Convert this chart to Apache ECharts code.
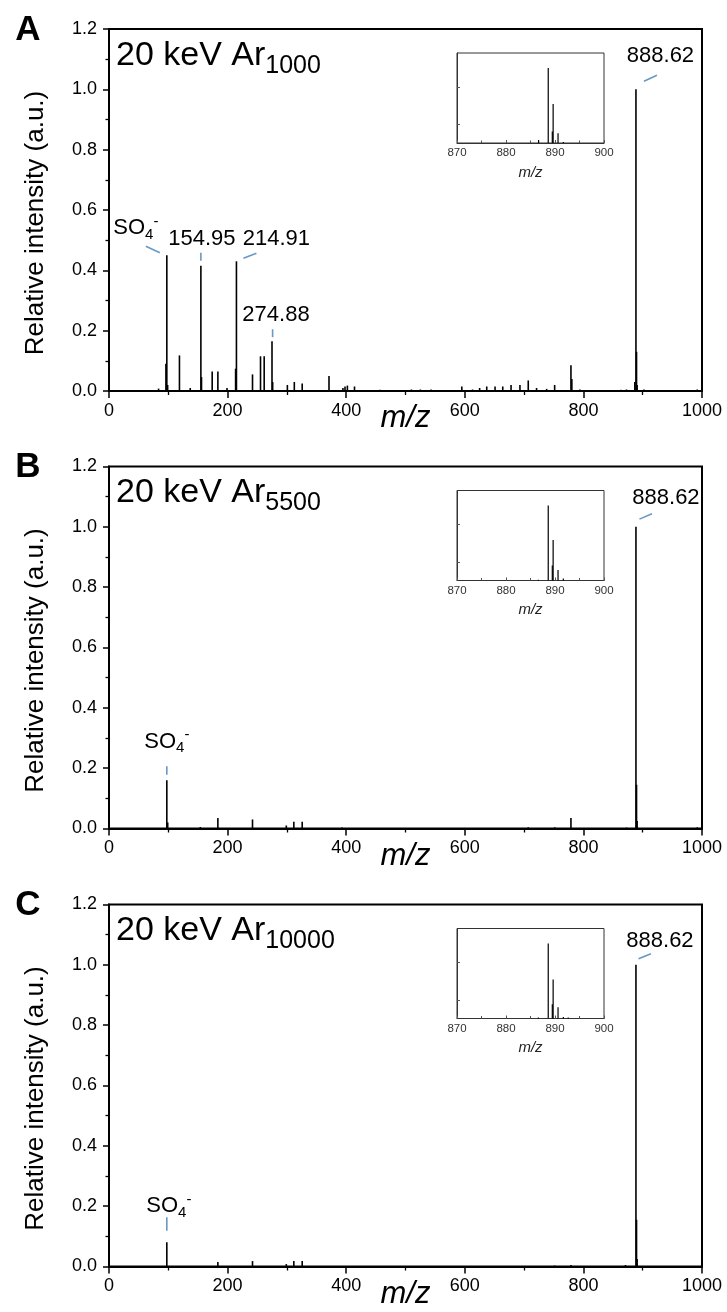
<!DOCTYPE html>
<html>
<head>
<meta charset="utf-8">
<script src="https://cdn.jsdelivr.net/npm/echarts@6/dist/echarts.min.js"></script>
<style>
html,body{margin:0;padding:0;background:#fff;}
#chart{width:727px;height:1312px;}
</style>
</head>
<body>
<div id="chart"></div>
<script>
// ---------------- DATA ----------------
const panelLetters = ['A', 'B', 'C'];
const clusterSizes = ['1000', '5500', '10000'];

const xTicks = [0, 200, 400, 600, 800, 1000];
const yTicks = [0, 0.2, 0.4, 0.6, 0.8, 1.0, 1.2];
const insetTicks = [870, 880, 890, 900];

// Panel A spectrum (m/z, relative intensity)
const mzA = [83.6, 96.0, 97.5, 98.9, 118.8, 137, 154.95, 156, 174, 183.6, 199, 213.5, 214.91, 242, 255.5, 261.7, 274.88, 276, 300.8, 312.5, 325.8, 371, 394.5, 398, 402, 414, 457, 510, 525, 543, 595, 613, 625, 637, 651, 664, 678, 693, 707, 721, 738, 751.5, 779, 780.5, 794, 863, 872.7, 886.7, 888.62, 889.6, 890.6, 902, 992];
const intA = [0.008, 0.09, 0.45, 0.02, 0.118, 0.01, 0.415, 0.046, 0.065, 0.065, 0.01, 0.074, 0.43, 0.055, 0.115, 0.115, 0.165, 0.03, 0.02, 0.03, 0.025, 0.05, 0.01, 0.015, 0.018, 0.015, 0.004, 0.005, 0.005, 0.005, 0.015, 0.005, 0.01, 0.015, 0.015, 0.015, 0.02, 0.02, 0.035, 0.01, 0.007, 0.02, 0.085, 0.04, 0.005, 0.004, 0.005, 0.03, 1.0, 0.13, 0.02, 0.005, 0.005];

// Panel B spectrum
const mzB = [97.5, 99, 154, 183.6, 242, 299, 311.7, 325.8, 393, 707, 751.5, 779, 872.7, 888.62, 889.6, 890.6, 992];
const intB = [0.16, 0.02, 0.005, 0.035, 0.03, 0.01, 0.022, 0.022, 0.003, 0.004, 0.004, 0.035, 0.003, 1.0, 0.145, 0.025, 0.004];

// Panel C spectrum
const mzC = [97.5, 183.6, 242, 299, 311.7, 325.8, 751.5, 779, 871, 888.62, 889.6, 890.6];
const intC = [0.08, 0.015, 0.018, 0.008, 0.018, 0.018, 0.003, 0.005, 0.005, 1.0, 0.155, 0.025];

// Insets (870-900 zoom), relative intensity
const insetMzA = [886.65, 888.62, 889.45, 889.62, 890.62, 891.7];
const insetIntA = [0.04, 1.0, 0.155, 0.52, 0.13, 0.015];
const insetMzB = [886.6, 888.62, 889.45, 889.62, 890.62, 891.7];
const insetIntB = [0.01, 1.0, 0.2, 0.54, 0.14, 0.027];
const insetMzC = [886.6, 888.62, 889.45, 889.62, 890.62, 891.7, 892.7];
const insetIntC = [0.013, 1.0, 0.19, 0.52, 0.15, 0.02, 0.013];

// Peak annotations
const annMzA = [97.5, 154.95, 214.91, 274.88, 888.62];
const annIntA = [0.45, 0.415, 0.43, 0.165, 1.0];
const annTextA = ['SO{sub|4}{sup|-}', '154.95', '214.91', '274.88', '888.62'];
const annMzB = [97.5, 888.62];
const annIntB = [0.16, 1.0];
const annTextB = ['SO{sub|4}{sup|-}', '888.62'];
const annMzC = [97.5, 888.62];
const annIntC = [0.08, 1.0];
const annTextC = ['SO{sub|4}{sup|-}', '888.62'];

// ---------------- LAYOUT / STYLE ----------------
const FONT = '"Liberation Sans", Arial, Helvetica, sans-serif';
const LEADER = '#6a98c4';
const panelTops = [29, 466.5, 904.5];
const PLOT = {left: 109, width: 593, height: 362};
const INSET = {left: 457, width: 147, dy: 24, height: 90};

// pixel offsets of label text (t) and leader line (l) relative to the peak top
const annLayout = [
  [ {t: [-31, -27], l: [-21, -9, -7, -2.6]},
    {t: [1, -27],   l: [0, -13, 0, -5]},
    {t: [40, -22],  l: [7, -3, 20, -8]},
    {t: [4, -26],   l: [0.6, -12, 0.6, -4]},
    {t: [24.5, -33], l: [8, -8, 21, -14]} ],
  [ {t: [0, -38.5], l: [0, -14, 0, -5.5]},
    {t: [30, -29],  l: [3.5, -7.7, 16, -13]} ],
  [ {t: [2, -36.5], l: [0, -25, 0, -11.5]},
    {t: [24, -24],  l: [2.6, -6, 15, -11]} ]
];

const spectra = [[mzA, intA], [mzB, intB], [mzC, intC]];
const insets = [[insetMzA, insetIntA], [insetMzB, insetIntB], [insetMzC, insetIntC]];
const anns = [[annMzA, annIntA, annTextA], [annMzB, annIntB, annTextB], [annMzC, annIntC, annTextC]];

function pairs(xs, ys) { return xs.map((x, i) => [x, ys[i]]); }

function stickRender(width) {
  return function (params, api) {
    const x = api.value(0), y = api.value(1);
    const p0 = api.coord([x, 0]);
    const p1 = api.coord([x, y]);
    return {
      type: 'line',
      shape: {x1: p0[0], y1: p0[1], x2: p1[0], y2: p1[1]},
      style: {stroke: '#000', lineWidth: width}
    };
  };
}

function annRender(layout, texts) {
  return function (params, api) {
    const i = params.dataIndex;
    const p = api.coord([api.value(0), api.value(1)]);
    const o = layout[i];
    return {
      type: 'group',
      children: [
        {type: 'line',
         shape: {x1: p[0] + o.l[0], y1: p[1] + o.l[1], x2: p[0] + o.l[2], y2: p[1] + o.l[3]},
         style: {stroke: LEADER, lineWidth: 1.6}},
        {type: 'text', x: p[0] + o.t[0], y: p[1] + o.t[1],
         style: {
           text: texts[i], fill: '#000', align: 'center', verticalAlign: 'middle',
           fontFamily: FONT, fontSize: 22, lineHeight: 28,
           rich: {
             sub: {fontFamily: FONT, fontSize: 15, lineHeight: 14, verticalAlign: 'bottom', fill: '#000'},
             sup: {fontFamily: FONT, fontSize: 15, lineHeight: 14, verticalAlign: 'top', fill: '#000'}
           }
         }}
      ]
    };
  };
}

const grid = [], xAxis = [], yAxis = [], series = [], title = [], graphic = [];

panelTops.forEach((T, k) => {
  // main grid
  grid.push({left: PLOT.left, top: T, width: PLOT.width, height: PLOT.height,
    show: true, borderColor: '#000', borderWidth: 2, backgroundColor: 'transparent'});
  xAxis.push({
    type: 'value', gridIndex: 2 * k, min: xTicks[0], max: xTicks[xTicks.length - 1],
    interval: xTicks[1] - xTicks[0],
    axisLine: {show: true, onZero: false, lineStyle: {color: '#000', width: 2}},
    axisTick: {show: true, length: 7, lineStyle: {color: '#000', width: 1.5}},
    minorTick: {show: true, splitNumber: 2, length: 4, lineStyle: {color: '#000', width: 1.3}},
    splitLine: {show: false},
    axisLabel: {color: '#000', fontFamily: FONT, fontSize: 18, margin: 11,
      formatter: v => String(v)},
    name: 'm/z', nameLocation: 'middle', nameGap: 12, nameMoveOverlap: false,
    nameTextStyle: {color: '#000', fontFamily: FONT, fontSize: 31, fontStyle: 'italic'}
  });
  yAxis.push({
    type: 'value', gridIndex: 2 * k, min: yTicks[0], max: yTicks[yTicks.length - 1],
    interval: yTicks[1] - yTicks[0],
    axisLine: {show: true, onZero: false, lineStyle: {color: '#000', width: 2}},
    axisTick: {show: true, length: 6, lineStyle: {color: '#000', width: 1.5}},
    minorTick: {show: true, splitNumber: 2, length: 3.5, lineStyle: {color: '#000', width: 1.3}},
    splitLine: {show: false},
    axisLabel: {color: '#000', fontFamily: FONT, fontSize: 18, margin: 12,
      formatter: v => v.toFixed(1)}
  });
  // inset grid
  grid.push({left: INSET.left, top: T + INSET.dy, width: INSET.width, height: INSET.height,
    show: true, borderColor: '#333', borderWidth: 1, backgroundColor: '#fff'});
  xAxis.push({
    type: 'value', gridIndex: 2 * k + 1, min: insetTicks[0], max: insetTicks[insetTicks.length - 1],
    interval: insetTicks[1] - insetTicks[0],
    axisLine: {show: true, onZero: false, lineStyle: {color: '#333', width: 1}},
    axisTick: {show: true, inside: true, length: 3, lineStyle: {color: '#555', width: 1}},
    minorTick: {show: true, splitNumber: 2, length: 2.5, lineStyle: {color: '#555', width: 1}},
    splitLine: {show: false},
    axisLabel: {color: '#333', fontFamily: FONT, fontSize: 11.5, margin: 4},
    name: 'm/z', nameLocation: 'middle', nameGap: 22, nameMoveOverlap: false,
    nameTextStyle: {color: '#222', fontFamily: FONT, fontSize: 15, fontStyle: 'italic'}
  });
  yAxis.push({
    type: 'value', gridIndex: 2 * k + 1, min: 0, max: 1.2,
    axisLine: {show: true, onZero: false, lineStyle: {color: '#333', width: 1}},
    axisTick: {show: true, inside: true, length: 3, customValues: [0.25, 0.75],
      lineStyle: {color: '#555', width: 1}},
    splitLine: {show: false},
    axisLabel: {show: false}
  });

  // spectra
  series.push({
    type: 'custom', xAxisIndex: 2 * k, yAxisIndex: 2 * k, z: 3,
    renderItem: stickRender(1.6), data: pairs(spectra[k][0], spectra[k][1]), silent: true
  });
  series.push({
    type: 'custom', xAxisIndex: 2 * k + 1, yAxisIndex: 2 * k + 1, z: 5,
    renderItem: stickRender(1.2), data: pairs(insets[k][0], insets[k][1]), silent: true
  });
  series.push({
    type: 'custom', xAxisIndex: 2 * k, yAxisIndex: 2 * k, z: 6,
    renderItem: annRender(annLayout[k], anns[k][2]), data: pairs(anns[k][0], anns[k][1]), silent: true
  });

  // sample title
  title.push({
    text: '20 keV Ar{sub|' + clusterSizes[k] + '}', left: 116, top: T + 3.5, padding: 0,
    textStyle: {
      color: '#000', fontFamily: FONT, fontSize: 34, fontWeight: 'normal', lineHeight: 46,
      rich: {sub: {color: '#000', fontFamily: FONT, fontSize: 25, lineHeight: 23, verticalAlign: 'bottom'}}
    }
  });
  // panel letter
  graphic.push({
    type: 'text', x: 28, y: T + 1,
    style: {text: panelLetters[k], fill: '#000', font: 'bold 35px ' + FONT, align: 'center', verticalAlign: 'middle'}
  });
  // y axis name
  graphic.push({
    type: 'text', x: 36, y: T + 194, rotation: Math.PI / 2,
    style: {text: 'Relative intensity (a.u.)', fill: '#000', font: '26px ' + FONT, align: 'center', verticalAlign: 'middle'}
  });
});

const chart = echarts.init(document.getElementById('chart'), null, {renderer: 'canvas'});
chart.setOption({
  animation: false,
  backgroundColor: '#fff',
  title, grid, xAxis, yAxis, series, graphic
});
</script>
</body>
</html>
